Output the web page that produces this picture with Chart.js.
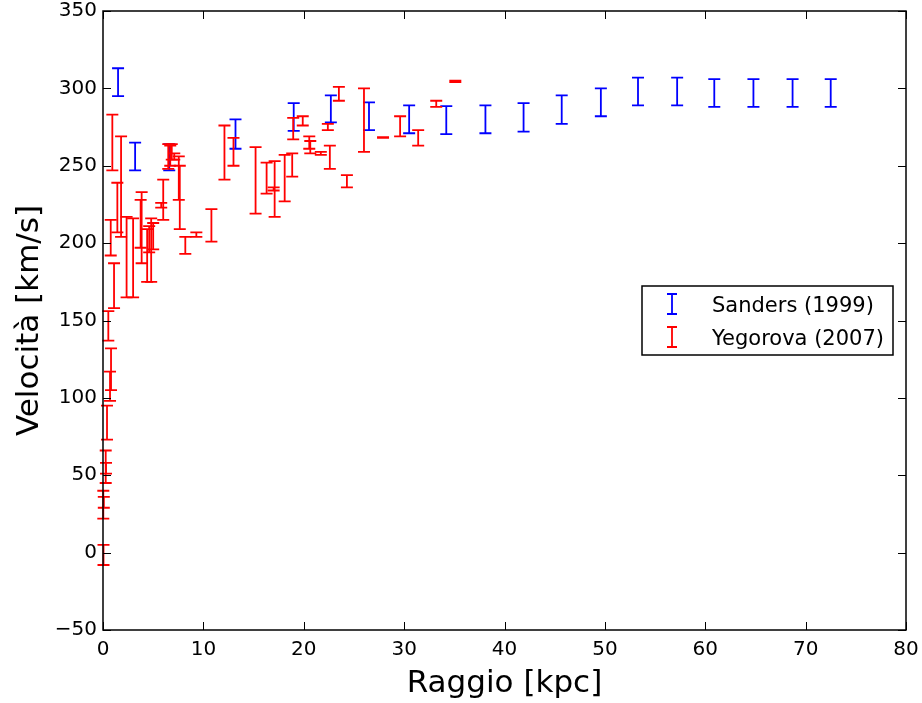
<!DOCTYPE html>
<html>
<head>
<meta charset="utf-8">
<script src="https://cdn.jsdelivr.net/npm/chart.js@4"></script>
<style>
  html, body { margin: 0; padding: 0; background: #fff; }
  #wrap { width: 922px; height: 703px; }
</style>
</head>
<body>
<div id="wrap"><canvas id="rotationCurve" width="922" height="703"></canvas></div>
<script>
// Sanders (1999): raggio [kpc] e intervallo di velocità [km/s]
const sandersR  = [1.5, 3.2, 6.6, 13.2, 19.0, 22.7, 26.5, 30.5, 34.2, 38.1, 41.9, 45.7, 49.6, 53.3, 57.2, 60.9, 64.8, 68.7, 72.5];
const sandersLo = [295, 247, 247, 261, 272.5, 278, 273, 271, 270.5, 271, 272, 277, 282, 289, 289, 288, 288, 288, 288];
const sandersHi = [313, 265, 264, 280, 290.5, 295.5, 291, 289, 288.5, 289, 290.5, 295.5, 300, 307, 307, 306, 306, 306, 306];

// Yegorova (2007)
const yegorovaR  = [0.05, 0.03, 0.08, 0.27, 0.3, 0.4, 0.7, 0.8, 0.53, 1.1, 0.77, 0.93, 1.43, 1.8, 2.35, 3.0,
                    3.75, 3.85, 4.4, 4.6, 4.8, 5.0, 5.8, 6.0, 6.5, 6.7, 6.85, 7.1, 7.55, 7.65, 8.2, 9.3,
                    10.8, 12.1, 13.0, 15.2, 16.3, 17.0, 17.1, 18.1, 18.85, 18.95, 19.9, 20.55, 20.65, 21.7,
                    22.4, 22.6, 23.5, 24.3, 26.0, 27.9, 29.6, 31.4, 33.2, 35.1];
const yegorovaLo = [-8, 22, 29, 45, 51, 73, 98, 105, 137, 158, 192, 247, 207, 204, 165, 165,
                    197, 187, 175, 194, 175, 196, 223, 215, 248, 250, 254, 254, 228, 209, 193, 204,
                    201, 241, 250, 219, 232, 234, 217, 227, 243, 267, 276, 261, 258, 257,
                    273, 248, 292, 236, 259, 268, 269, 263, 288, 304];
const yegorovaHi = [5, 40, 36, 66, 58, 95, 117, 132, 156, 187, 215, 283, 239, 269, 217, 216,
                    228, 233, 209, 211, 216, 213, 226, 241, 264, 263, 264, 258, 256, 250, 204, 207,
                    222, 276, 268, 262, 252, 236, 253, 257, 258, 281, 282, 269, 266, 259,
                    277, 263, 301, 244, 300, 268.5, 282, 273, 292, 305];

const xTicks = [0, 10, 20, 30, 40, 50, 60, 70, 80];
const yTicks = [-50, 0, 50, 100, 150, 200, 250, 300, 350];

function buildPoints(rs, los, his) {
  return rs.map((r, i) => ({ x: r, y: (los[i] + his[i]) / 2, lo: los[i], hi: his[i] }));
}

const FONT = 'DejaVu Sans';

// barre d'errore verticali con stanghette
const errorBars = {
  id: 'errorBars',
  afterDatasetsDraw(chart) {
    const ctx = chart.ctx;
    const xs = chart.scales.x, ys = chart.scales.y;
    chart.data.datasets.forEach(ds => {
      ctx.save();
      ctx.strokeStyle = ds.borderColor;
      ctx.lineWidth = 1.8;
      ds.data.forEach(p => {
        const px = xs.getPixelForValue(p.x);
        const top = ys.getPixelForValue(p.hi);
        const bot = ys.getPixelForValue(p.lo);
        ctx.beginPath();
        ctx.moveTo(px, top); ctx.lineTo(px, bot);
        ctx.moveTo(px - 6, top); ctx.lineTo(px + 6, top);
        ctx.moveTo(px - 6, bot); ctx.lineTo(px + 6, bot);
        ctx.stroke();
      });
      ctx.restore();
    });
  }
};

// cornice, tacche interne e legenda
const frame = {
  id: 'frame',
  afterDraw(chart) {
    const ctx = chart.ctx;
    const a = chart.chartArea;
    const xs = chart.scales.x, ys = chart.scales.y;
    ctx.save();
    ctx.strokeStyle = '#000';
    ctx.lineWidth = 1;
    ctx.beginPath();
    xTicks.forEach(v => {
      const px = Math.round(xs.getPixelForValue(v)) + 0.5;
      ctx.moveTo(px, a.bottom); ctx.lineTo(px, a.bottom - 8);
      ctx.moveTo(px, a.top); ctx.lineTo(px, a.top + 8);
    });
    yTicks.forEach(v => {
      const py = Math.round(ys.getPixelForValue(v)) + 0.5;
      ctx.moveTo(a.left, py); ctx.lineTo(a.left + 8, py);
      ctx.moveTo(a.right, py); ctx.lineTo(a.right - 8, py);
    });
    ctx.stroke();
    ctx.lineWidth = 1.5;
    ctx.strokeRect(a.left, a.top, a.right - a.left, a.bottom - a.top);

    // legenda
    const bx = 642, by = 286, bw = 251, bh = 69;
    ctx.fillStyle = '#fff';
    ctx.fillRect(bx, by, bw, bh);
    ctx.lineWidth = 1.5;
    ctx.strokeRect(bx, by, bw, bh);
    ctx.font = '21px "' + FONT + '"';
    ctx.textBaseline = 'alphabetic';
    ctx.textAlign = 'left';
    chart.data.datasets.forEach((ds, i) => {
      const cy = by + 18 + i * 33;
      ctx.strokeStyle = ds.borderColor;
      ctx.lineWidth = 1.8;
      ctx.beginPath();
      ctx.moveTo(672, cy - 10); ctx.lineTo(672, cy + 10);
      ctx.moveTo(667, cy - 10); ctx.lineTo(677, cy - 10);
      ctx.moveTo(667, cy + 10); ctx.lineTo(677, cy + 10);
      ctx.stroke();
      ctx.fillStyle = '#000';
      ctx.fillText(ds.label, 712, cy + 8);
    });
    ctx.restore();
  }
};

function noPad(s) {
  s.paddingTop = 0; s.paddingBottom = 0; s.paddingLeft = 0; s.paddingRight = 0;
}

const ctx = document.getElementById('rotationCurve').getContext('2d');
new Chart(ctx, {
  type: 'scatter',
  data: {
    datasets: [
      { label: 'Sanders (1999)', data: buildPoints(sandersR, sandersLo, sandersHi),
        borderColor: '#0000ff', backgroundColor: '#0000ff', pointRadius: 0, pointHoverRadius: 0 },
      { label: 'Yegorova (2007)', data: buildPoints(yegorovaR, yegorovaLo, yegorovaHi),
        borderColor: '#ff0000', backgroundColor: '#ff0000', pointRadius: 0, pointHoverRadius: 0 }
    ]
  },
  options: {
    responsive: false,
    animation: false,
    events: [],
    layout: { padding: { top: 11, right: 16, left: 0, bottom: 0 } },
    plugins: { legend: { display: false }, tooltip: { enabled: false } },
    scales: {
      x: {
        type: 'linear', min: 0, max: 80,
        afterBuildTicks: s => { s.ticks = xTicks.map(v => ({ value: v })); },
        afterFit: s => { s.height = 73; noPad(s); },
        grid: { display: false, drawTicks: false },
        border: { display: false },
        ticks: { color: '#000', padding: 8, font: { family: FONT, size: 20 }, maxRotation: 0 },
        title: { display: true, text: 'Raggio [kpc]', color: '#000',
                 font: { family: FONT, size: 31, lineHeight: 1 }, padding: { top: 0, bottom: 4 } }
      },
      y: {
        type: 'linear', min: -50, max: 350,
        afterBuildTicks: s => { s.ticks = yTicks.map(v => ({ value: v })); },
        afterFit: s => { s.width = 103; noPad(s); },
        grid: { display: false, drawTicks: false },
        border: { display: false },
        ticks: { color: '#000', padding: 6, font: { family: FONT, size: 20 },
                 callback: v => String(v).replace('-', '\u2212') },
        title: { display: true, text: 'Velocità [km/s]', color: '#000',
                 font: { family: FONT, size: 31, lineHeight: 1 }, padding: { top: 14, bottom: 0 } }
      }
    }
  },
  plugins: [errorBars, frame]
});
</script>
</body>
</html>
